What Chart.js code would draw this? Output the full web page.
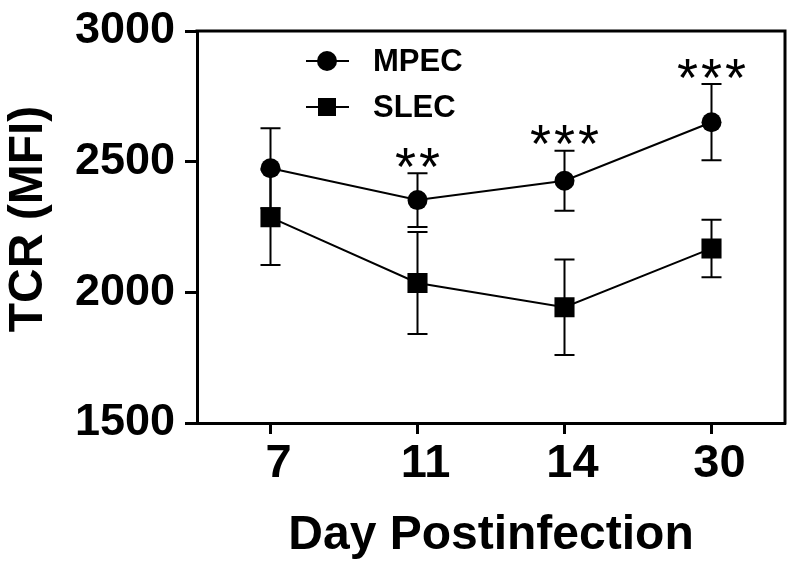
<!DOCTYPE html>
<html>
<head>
<meta charset="utf-8">
<script src="https://cdn.jsdelivr.net/npm/chart.js@4.4.0/dist/chart.umd.min.js"></script>
<style>
  html, body { margin: 0; padding: 0; background: #fff; }
  #wrap { width: 800px; height: 575px; }
</style>
</head>
<body>
<div id="wrap"><canvas id="c" width="800" height="575"></canvas></div>
<script>
const days = ['7', '11', '14', '30'];
const seriesNames = ['MPEC', 'SLEC'];
const mpec = [2475, 2353, 2427, 2651];
const mpecErr = [153, 103, 115, 146];
const slec = [2287, 2036, 1943, 2168];
const slecErr = [182, 195, 183, 110];
const significance = ['', '**', '***', '***'];
const yTicks = [1500, 2000, 2500, 3000];
const xTitle = 'Day Postinfection';
const yTitle = 'TCR (MFI)';

const FONT = "'Liberation Sans', Arial, sans-serif";
const errs = [mpecErr, slecErr];

const errorBars = {
  id: 'errorBars',
  beforeDatasetsDraw(chart) {
    const ctx = chart.ctx, y = chart.scales.y;
    ctx.save();
    ctx.strokeStyle = '#000';
    ctx.lineWidth = 2;
    chart.data.datasets.forEach((ds, di) => {
      const meta = chart.getDatasetMeta(di);
      ds.data.forEach((v, i) => {
        const x = meta.data[i].x;
        const yt = y.getPixelForValue(v + errs[di][i]);
        const yb = y.getPixelForValue(v - errs[di][i]);
        ctx.beginPath();
        ctx.moveTo(x, yt); ctx.lineTo(x, yb);
        ctx.moveTo(x - 10, yt); ctx.lineTo(x + 10, yt);
        ctx.moveTo(x - 10, yb); ctx.lineTo(x + 10, yb);
        ctx.stroke();
      });
    });
    ctx.restore();
  }
};

const extras = {
  id: 'extras',
  afterDraw(chart) {
    const ctx = chart.ctx, a = chart.chartArea, y = chart.scales.y;
    ctx.save();
    // top and right frame
    ctx.strokeStyle = '#000';
    ctx.lineWidth = 3;
    ctx.beginPath();
    ctx.moveTo(a.left - 1.5, a.top);
    ctx.lineTo(a.right, a.top);
    ctx.lineTo(a.right, a.bottom + 1.5);
    ctx.stroke();

    // significance stars
    ctx.fillStyle = '#000';
    ctx.font = "54px " + FONT;
    const meta = chart.getDatasetMeta(0);
    significance.forEach((s, i) => {
      if (!s) return;
      const cx = meta.data[i].x;
      const cy = y.getPixelForValue(mpec[i] + mpecErr[i]) - 16;
      const m = ctx.measureText('*');
      const off = (m.actualBoundingBoxAscent - m.actualBoundingBoxDescent) / 2;
      ctx.textAlign = 'center';
      ctx.textBaseline = 'alphabetic';
      for (let k = 0; k < s.length; k++) {
        ctx.fillText('*', cx + (k - (s.length - 1) / 2) * 24, cy + off);
      }
    });

    // legend
    const styles = ['circle', 'rect'];
    seriesNames.forEach((name, i) => {
      const ly = a.top + 30 + i * 46;
      const lx = a.left + 109;
      ctx.lineWidth = 2;
      ctx.beginPath();
      ctx.moveTo(lx, ly); ctx.lineTo(lx + 43, ly);
      ctx.stroke();
      ctx.beginPath();
      if (styles[i] === 'circle') {
        ctx.arc(lx + 21, ly, 10, 0, Math.PI * 2);
      } else {
        ctx.rect(lx + 12, ly - 9, 18, 18);
      }
      ctx.fill();
      ctx.font = "bold 31px " + FONT;
      ctx.textAlign = 'left';
      ctx.textBaseline = 'middle';
      ctx.fillText(name, lx + 67, ly + 1);
    });

    // y title
    ctx.font = "bold 48px " + FONT;
    ctx.translate(29, (a.top + a.bottom) / 2 - 8);
    ctx.rotate(-Math.PI / 2);
    ctx.textAlign = 'center';
    ctx.textBaseline = 'middle';
    ctx.fillText(yTitle, 0, 0);
    ctx.restore();
  }
};

new Chart(document.getElementById('c'), {
  type: 'line',
  data: {
    labels: days,
    datasets: [
      {
        label: seriesNames[0], data: mpec,
        borderColor: '#000', backgroundColor: '#000', borderWidth: 2,
        pointStyle: 'circle', pointRadius: 10, pointHoverRadius: 10,
        pointBorderWidth: 0, tension: 0, fill: false
      },
      {
        label: seriesNames[1], data: slec,
        borderColor: '#000', backgroundColor: '#000', borderWidth: 2,
        pointStyle: 'rect', pointRadius: 14.2, pointHoverRadius: 14.2,
        pointBorderWidth: 0, tension: 0, fill: false
      }
    ]
  },
  options: {
    responsive: false,
    animation: false,
    events: [],
    layout: { padding: { top: 31, right: 15, left: 0, bottom: 0 } },
    plugins: { legend: { display: false }, tooltip: { enabled: false } },
    scales: {
      x: {
        type: 'category',
        offset: true,
        afterFit(s) { s.height = 152; s.paddingLeft = 0; s.paddingRight = 0; },
        grid: { drawOnChartArea: false, drawTicks: true, tickLength: 11, tickWidth: 3, tickColor: '#000', offset: false },
        border: { display: true, color: '#000', width: 3 },
        ticks: { color: '#000', font: { family: FONT, size: 47, weight: 'bold' }, padding: 2, labelOffset: 8 },
        title: { display: true, text: xTitle, color: '#000', font: { family: FONT, size: 48, weight: 'bold' }, padding: { top: 0, bottom: 10 } }
      },
      y: {
        min: 1500, max: 3000,
        afterFit(s) { s.width = 197; s.paddingTop = 0; s.paddingBottom = 0; },
        afterBuildTicks(s) { s.ticks = yTicks.map(v => ({ value: v })); },
        grid: { drawOnChartArea: false, drawTicks: true, tickLength: 12, tickWidth: 3, tickColor: '#000' },
        border: { display: true, color: '#000', width: 3 },
        ticks: { color: '#000', font: { family: FONT, size: 45, weight: 'bold' }, padding: 10, callback: (v) => String(v) }
      }
    }
  },
  plugins: [errorBars, extras]
});
</script>
</body>
</html>
